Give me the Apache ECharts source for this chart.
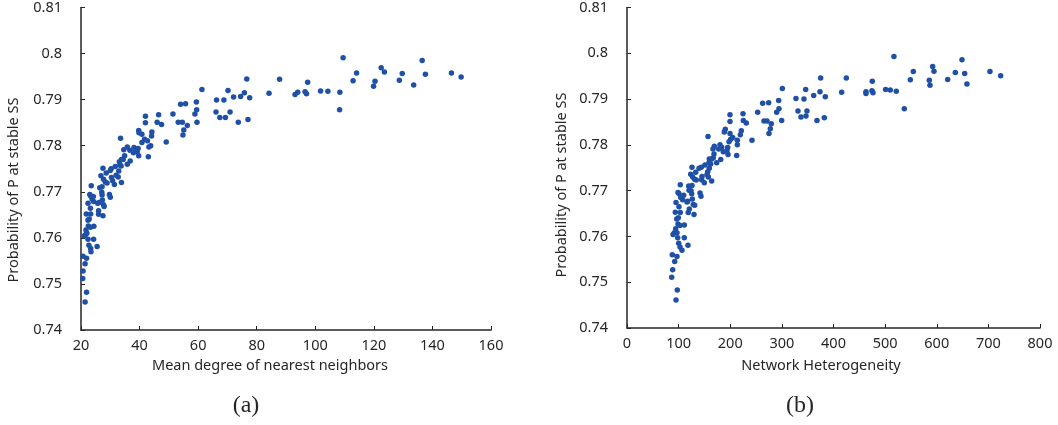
<!DOCTYPE html>
<html>
<head>
<meta charset="utf-8">
<script src="https://cdn.jsdelivr.net/npm/echarts@6/dist/echarts.min.js"></script>
<style>
  html, body { margin: 0; padding: 0; background: #fff; }
  #main { width: 1058px; height: 425px; }
</style>
</head>
<body>
<div id="main"></div>
<script>
// (a) mean degree of nearest neighbors vs probability
var degreeA = [61.3, 66.3, 66.1, 54.0, 55.7, 59.4, 59.5, 58.9, 59.6, 51.4, 53.2, 54.6, 56.3, 55.1, 54.8, 49.1, 46.5, 46.0, 47.5, 42.0,
  42.0, 39.7, 39.8, 40.8, 44.2, 44.1, 41.7, 42.7, 40.8, 43.8, 43.2, 43.0, 39.5, 38.1, 38.8, 37.9, 39.2, 36.7, 35.8, 34.6,
  39.7, 33.5, 34.9, 33.8, 34.4, 36.8, 33.1, 35.8, 33.3, 33.7, 31.7, 32.9, 30.3, 30.0, 28.6, 27.5, 26.8, 32.0, 32.7, 30.4,
  30.8, 27.7, 28.3, 31.4, 33.8, 23.5, 26.4, 27.2, 28.9, 23.0, 23.3, 24.2, 27.1, 27.2, 29.7, 30.0, 23.8, 24.3, 25.7, 26.2,
  27.3, 22.4, 27.7, 27.9, 23.2, 26.0, 26.0, 27.5, 21.8, 23.3, 22.4, 22.8, 22.5, 23.2, 24.4, 21.7, 21.5, 21.1, 22.0, 22.4,
  24.3, 22.7, 23.3, 23.4, 25.5, 20.7, 21.9, 21.4, 20.7, 20.6, 21.9, 21.4, 76.6, 74.5, 77.6, 77.0, 73.7, 75.8, 72.1, 70.2,
  68.8, 70.9, 69.3, 67.4, 84.2, 87.8, 93.1, 94.0, 96.5, 97.0, 97.4, 101.8, 104.3, 108.4, 108.3, 109.5, 112.9, 114.1, 119.9, 120.4,
  122.5, 123.6, 128.7, 129.7, 133.6, 136.5, 137.6, 146.5, 149.8];
var probA = [0.7922, 0.7899, 0.7873, 0.7890, 0.7891, 0.7895, 0.7878, 0.7869, 0.7851, 0.7869, 0.7851, 0.7851, 0.7844, 0.7834, 0.7823, 0.7808, 0.7867, 0.7851, 0.7846, 0.7864,
  0.7850, 0.7833, 0.7828, 0.7825, 0.7830, 0.7821, 0.7814, 0.7811, 0.7807, 0.7800, 0.7797, 0.7776, 0.7794, 0.7796, 0.7790, 0.7785, 0.7787, 0.7790, 0.7797, 0.7791,
  0.7778, 0.7816, 0.7778, 0.7770, 0.7770, 0.7767, 0.7765, 0.7760, 0.7758, 0.7756, 0.7755, 0.7745, 0.7750, 0.7746, 0.7741, 0.7751, 0.7735, 0.7736, 0.7732, 0.7731,
  0.7724, 0.7727, 0.7721, 0.7716, 0.7720, 0.7713, 0.7709, 0.7711, 0.7719, 0.7694, 0.7691, 0.7690, 0.7699, 0.7693, 0.7694, 0.7688, 0.7684, 0.7679, 0.7675, 0.7677,
  0.7682, 0.7675, 0.7672, 0.7668, 0.7664, 0.7659, 0.7651, 0.7648, 0.7652, 0.7652, 0.7638, 0.7641, 0.7626, 0.7623, 0.7625, 0.7617, 0.7607, 0.7604, 0.7610, 0.7597,
  0.7597, 0.7584, 0.7577, 0.7570, 0.7581, 0.7560, 0.7556, 0.7544, 0.7528, 0.7512, 0.7482, 0.7461, 0.7945, 0.7907, 0.7904, 0.7857, 0.7851, 0.7915, 0.7906, 0.7920,
  0.7899, 0.7873, 0.7861, 0.7861, 0.7914, 0.7944, 0.7911, 0.7916, 0.7917, 0.7913, 0.7938, 0.7919, 0.7918, 0.7916, 0.7878, 0.7991, 0.7941, 0.7958, 0.7929, 0.7940,
  0.7969, 0.7960, 0.7942, 0.7957, 0.7932, 0.7985, 0.7955, 0.7958, 0.7949];

// (b) network heterogeneity vs probability
var heteroB = [300.9, 346.1, 327.3, 342.8, 331.2, 348.6, 337.0, 346.7, 293.8, 294.4, 289.9, 299.6, 262.8, 274.4, 253.1, 265.3, 271.2, 279.5, 277.6, 275.0,
  242.1, 199.5, 199.5, 224.7, 225.3, 231.1, 190.4, 188.5, 199.5, 221.4, 219.5, 204.7, 200.8, 213.7, 197.6, 156.9, 213.7, 180.1, 169.1, 183.4,
  195.0, 166.6, 177.6, 186.5, 193.7, 168.5, 195.6, 212.5, 167.2, 159.4, 181.5, 164.0, 158.8, 173.7, 162.1, 151.1, 143.9, 139.5, 125.9, 159.4,
  156.3, 133.1, 123.4, 155.0, 127.2, 145.3, 131.1, 134.2, 157.5, 164.0, 144.6, 149.7, 103.2, 119.5, 125.9, 120.1, 124.0, 98.8, 100.7, 104.0,
  109.8, 107.8, 94.9, 116.2, 117.6, 125.3, 126.5, 141.4, 143.3, 100.7, 128.4, 131.1, 120.7, 93.6, 103.2, 118.7, 129.8, 99.4, 96.3, 98.8,
  102.7, 111.0, 94.3, 91.6, 96.8, 89.1, 98.2, 111.0, 100.1, 102.7, 106.5, 118.1, 87.7, 96.8, 92.4, 88.5, 86.6, 97.4, 94.9, 361.6,
  373.8, 375.1, 384.1, 368.0, 382.2, 415.8, 424.8, 462.9, 462.9, 474.5, 476.5, 475.1, 501.0, 510.0, 521.6, 537.1, 517.1, 548.8, 554.6, 585.5,
  586.9, 592.1, 594.6, 621.2, 636.0, 648.9, 654.1, 658.5, 703.1, 723.8];
var probB = [0.7923, 0.7921, 0.7901, 0.7900, 0.7874, 0.7874, 0.7861, 0.7863, 0.7897, 0.7879, 0.7871, 0.7853, 0.7891, 0.7892, 0.7871, 0.7852, 0.7852, 0.7846, 0.7835, 0.7825,
  0.7810, 0.7866, 0.7851, 0.7868, 0.7853, 0.7848, 0.7834, 0.7828, 0.7825, 0.7831, 0.7822, 0.7816, 0.7812, 0.7810, 0.7807, 0.7818, 0.7800, 0.7800, 0.7797, 0.7795,
  0.7794, 0.7791, 0.7791, 0.7785, 0.7787, 0.7780, 0.7779, 0.7777, 0.7772, 0.7769, 0.7768, 0.7769, 0.7761, 0.7761, 0.7758, 0.7756, 0.7751, 0.7749, 0.7751, 0.7749,
  0.7741, 0.7740, 0.7736, 0.7735, 0.7730, 0.7731, 0.7725, 0.7723, 0.7730, 0.7721, 0.7724, 0.7717, 0.7713, 0.7710, 0.7711, 0.7701, 0.7700, 0.7696, 0.7693, 0.7685,
  0.7690, 0.7680, 0.7674, 0.7675, 0.7677, 0.7693, 0.7682, 0.7695, 0.7688, 0.7665, 0.7670, 0.7668, 0.7660, 0.7653, 0.7652, 0.7652, 0.7648, 0.7641, 0.7638, 0.7627,
  0.7624, 0.7625, 0.7617, 0.7608, 0.7608, 0.7604, 0.7597, 0.7597, 0.7585, 0.7577, 0.7570, 0.7581, 0.7560, 0.7556, 0.7545, 0.7527, 0.7511, 0.7483, 0.7461, 0.7908,
  0.7916, 0.7946, 0.7905, 0.7853, 0.7859, 0.7915, 0.7946, 0.7916, 0.7912, 0.7918, 0.7914, 0.7939, 0.7921, 0.7920, 0.7917, 0.7879, 0.7993, 0.7942, 0.7960, 0.7941,
  0.7930, 0.7971, 0.7961, 0.7943, 0.7958, 0.7986, 0.7956, 0.7933, 0.7960, 0.7951];

var yLabel = 'Probability of P at stable SS';
var xLabelA = 'Mean degree of nearest neighbors';
var xLabelB = 'Network Heterogeneity';

var dotColor = '#1f50a6';
var inkColor = '#262626';
var labelFont = '"Noto Sans", sans-serif';

function pairs(xs, ys) {
  return xs.map(function (x, i) { return [x, ys[i]]; });
}

function xAxisOf(gridIndex, min, max, interval) {
  return {
    gridIndex: gridIndex, type: 'value', min: min, max: max, interval: interval,
    axisLine: { show: true, lineStyle: { color: inkColor, width: 1.5 } },
    axisTick: { show: true, inside: true, length: 4, lineStyle: { color: inkColor } },
    axisLabel: { color: inkColor, fontSize: 14.5, fontFamily: labelFont, margin: 8 },
    splitLine: { show: false }
  };
}

function yAxisOf(gridIndex) {
  return {
    gridIndex: gridIndex, type: 'value', min: 0.74, max: 0.81, interval: 0.01,
    axisLine: { show: true, lineStyle: { color: inkColor, width: 1.5 } },
    axisTick: { show: true, inside: true, length: 4, lineStyle: { color: inkColor } },
    axisLabel: {
      color: inkColor, fontSize: 14.5, fontFamily: labelFont, margin: 19,
      formatter: function (v) { return String(+v.toFixed(2)); }
    },
    splitLine: { show: false }
  };
}

function textAt(x, y, text, opts) {
  opts = opts || {};
  return {
    type: 'text', x: x, y: y, rotation: opts.rotation || 0,
    style: {
      text: text, fill: inkColor, font: opts.font || ('14.5px ' + labelFont),
      align: 'center', verticalAlign: 'middle'
    }
  };
}

var chart = echarts.init(document.getElementById('main'));
chart.setOption({
  animation: false,
  backgroundColor: '#fff',
  grid: [
    { left: 81, right: 567, top: 7, bottom: 95 },
    { left: 627, right: 18, top: 3, bottom: 97 }
  ],
  xAxis: [xAxisOf(0, 20, 160, 20), xAxisOf(1, 0, 800, 100)],
  yAxis: [yAxisOf(0), yAxisOf(1)],
  series: [
    { type: 'scatter', xAxisIndex: 0, yAxisIndex: 0, data: pairs(degreeA, probA),
      symbolSize: 5.5, itemStyle: { color: dotColor, opacity: 1 } },
    { type: 'scatter', xAxisIndex: 1, yAxisIndex: 1, data: pairs(heteroB, probB),
      symbolSize: 5.5, itemStyle: { color: dotColor, opacity: 1 } }
  ],
  graphic: [
    textAt(270, 366, xLabelA),
    textAt(821, 366, xLabelB),
    textAt(14, 190, yLabel, { rotation: Math.PI / 2 }),
    textAt(562, 185, yLabel, { rotation: Math.PI / 2 }),
    textAt(246, 406, '(a)', { font: '24px "Liberation Serif", serif' }),
    textAt(800, 406, '(b)', { font: '24px "Liberation Serif", serif' })
  ]
});
</script>
</body>
</html>
